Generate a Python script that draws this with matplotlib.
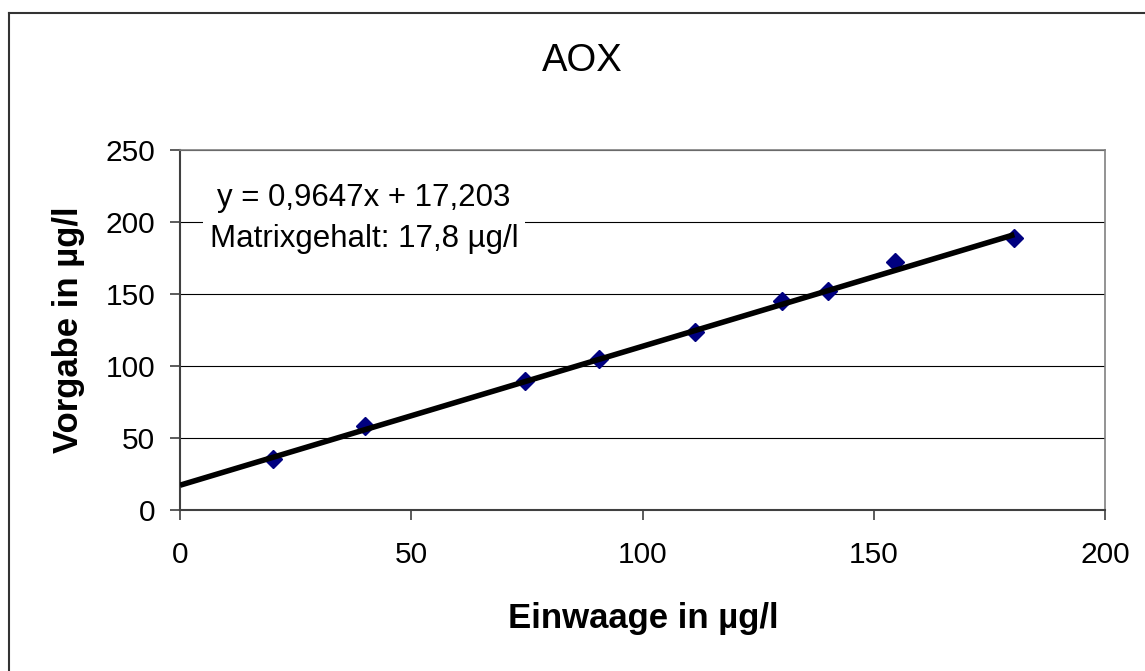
import matplotlib
matplotlib.use("Agg")
import matplotlib.pyplot as plt
from matplotlib.lines import Line2D

plt.rcParams['font.family'] = ['Liberation Sans', 'DejaVu Sans']

einwaage = [20.0, 40.0, 74.6, 90.7, 111.3, 130.2, 140.1, 154.5, 180.4]
vorgabe = [35.3, 58.2, 89.9, 105.1, 123.4, 145.4, 152.0, 172.4, 189.0]

# Trendlinie laut Diagramm
slope = 0.9647
intercept = 17.203
matrixgehalt = "17,8"

x_ticks = [0, 50, 100, 150, 200]
y_ticks = [0, 50, 100, 150, 200, 250]

W, H = 1145, 671
fig = plt.figure(figsize=(W / 100, H / 100), dpi=100)
ax = fig.add_axes([180 / W, 1 - 510 / H, 925 / W, 360 / H])

ax.set_xlim(0, 200)
ax.set_ylim(0, 250)
ax.set_xticks(x_ticks)
ax.set_yticks(y_ticks)
ax.tick_params(axis='both', direction='out', length=7.2, width=1.2,
               color='#404040', labelsize=21.5)
ax.tick_params(axis='x', pad=15)
ax.tick_params(axis='y', pad=10.5)

ax.yaxis.grid(True, color='black', linewidth=0.8)
ax.set_axisbelow(True)
for side in ['top', 'right']:
    ax.spines[side].set_color('#808080')
    ax.spines[side].set_linewidth(1.2)
for side in ['left', 'bottom']:
    ax.spines[side].set_color('#404040')
    ax.spines[side].set_linewidth(1.5)

# Messpunkte
ax.plot(einwaage, vorgabe, linestyle='none', marker='D', markersize=9.5,
        color='#000080', zorder=3)

# lineare Trendlinie von 0 bis zum letzten Punkt
x_line = [0, max(einwaage)]
y_line = [intercept + slope * v for v in x_line]
ax.plot(x_line, y_line, color='black', linewidth=4, zorder=4,
        solid_capstyle='butt')

eq_text = "y = " + f"{slope}".replace('.', ',') + "x + " + f"{intercept}".replace('.', ',')
fig.text(364 / W, 1 - 206 / H, eq_text, ha='center', va='baseline',
         fontsize=22.5, zorder=5,
         bbox=dict(facecolor='white', edgecolor='none', boxstyle='square,pad=0.2'))
fig.text(364 / W, 1 - 247 / H, "Matrixgehalt: " + matrixgehalt + " µg/l",
         ha='center', va='baseline', fontsize=22.5, zorder=5,
         bbox=dict(facecolor='white', edgecolor='none', boxstyle='square,pad=0.2'))

# Titel und Achsenbeschriftungen
fig.text(582 / W, 1 - 71 / H, "AOX", ha='center', va='baseline', fontsize=27.5)
fig.text(643 / W, 1 - 628 / H, "Einwaage in µg/l", ha='center', va='baseline',
         fontsize=25, fontweight='bold')
fig.text(78 / W, 1 - 330 / H, "Vorgabe in µg/l", ha='center', va='baseline',
         rotation=90, rotation_mode='anchor', fontsize=25, fontweight='bold')

# Rahmen des Diagrammbereichs (rechts und unten abgeschnitten)
fig.add_artist(Line2D([9 / W, 9 / W], [0, 1 - 13 / H], color='#333333', linewidth=1.5))
fig.add_artist(Line2D([9 / W, 1], [1 - 13 / H, 1 - 13 / H], color='#333333', linewidth=1.5))

fig.savefig("out.png", dpi=100)
